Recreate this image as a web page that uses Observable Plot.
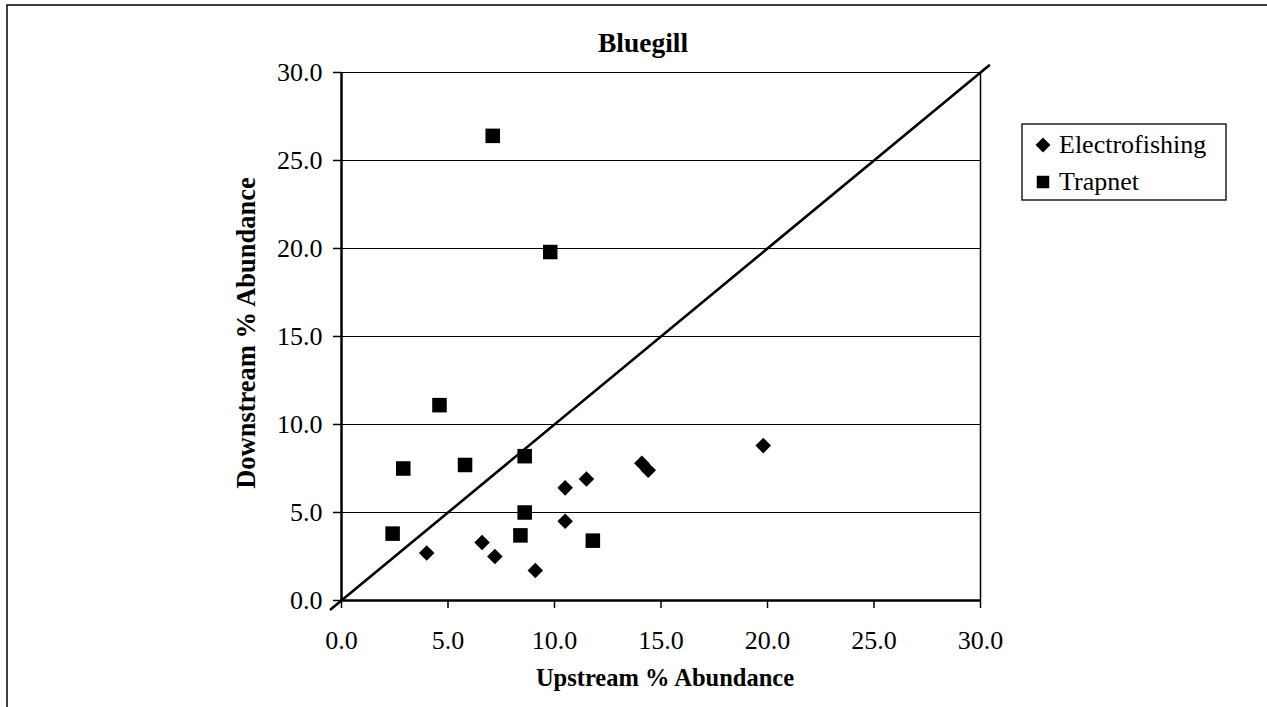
<!DOCTYPE html>
<html>
<head>
<meta charset="utf-8">
<script src="https://cdn.jsdelivr.net/npm/d3@7"></script>
<script src="https://cdn.jsdelivr.net/npm/@observablehq/plot@0.6"></script>
<style>
  html, body { margin: 0; padding: 0; background: #fff; }
  #chart svg { display: block; }
</style>
</head>
<body>
<div id="chart"></div>
<script>
// ---- data ----
const titleText = "Bluegill";
const xLabel = "Upstream % Abundance";
const yLabel = "Downstream % Abundance";
const seriesNames = ["Electrofishing", "Trapnet"];
const electroUp   = [4.0, 6.6, 7.2, 9.1, 10.5, 10.5, 11.5, 14.1, 14.4, 19.8];
const electroDown = [2.7, 3.3, 2.5, 1.7, 6.4, 4.5, 6.9, 7.8, 7.4, 8.8];
const trapUp      = [2.4, 2.9, 4.6, 5.8, 7.1, 8.4, 8.6, 8.6, 9.8, 11.8];
const trapDown    = [3.8, 7.5, 11.1, 7.7, 26.4, 3.7, 8.2, 5.0, 19.8, 3.4];
const axisTicks   = [0, 5, 10, 15, 20, 25, 30];
const gridValues  = [5, 10, 15, 20, 25, 30];
const identityEnds = [-0.5, 30.4];

// ---- build tables ----
const electro = electroUp.map((u, i) => ({up: u, down: electroDown[i]}));
const trap = trapUp.map((u, i) => ({up: u, down: trapDown[i]}));
const identity = identityEnds.map(v => ({up: v, down: v}));
const fmt = d => d.toFixed(1);

const W = 1267, H = 707;
const serif = "'Liberation Serif', 'Times New Roman', serif";
const chart = Plot.plot({
  width: W, height: H,
  marginLeft: 341, marginRight: 287, marginTop: 72, marginBottom: 107,
  style: {fontFamily: serif, fontSize: "26px", color: "#000", background: "#fff"},
  x: {domain: [0, 30]},
  y: {domain: [0, 30]},
  marks: [
    Plot.ruleY(gridValues, {stroke: "#000", strokeWidth: 1.2}),
    Plot.ruleX([30], {stroke: "#000", strokeWidth: 1.5}),
    Plot.axisX({ticks: axisTicks, tickFormat: fmt, tickSize: 8, tickPadding: 22, label: null, fontSize: 26, strokeWidth: 1.5, strokeOpacity: 1}),
    Plot.axisY({ticks: axisTicks, tickFormat: fmt, tickSize: 8, tickPadding: 11, label: null, fontSize: 26, strokeWidth: 1.5, strokeOpacity: 1}),
    Plot.ruleY([0], {stroke: "#000", strokeWidth: 2.5}),
    Plot.ruleX([0], {stroke: "#000", strokeWidth: 2.5}),
    Plot.line(identity, {x: "up", y: "down", stroke: "#000", strokeWidth: 2.6, clip: false}),
    Plot.dot(electro, {x: "up", y: "down", symbol: "diamond2", r: 7, fill: "#000", stroke: "none"}),
    Plot.dot(trap, {x: "up", y: "down", symbol: "square", r: 8.2, fill: "#000", stroke: "none"})
  ]
});
document.getElementById("chart").appendChild(chart);

// ---- decorations: frame, title, labels, legend ----
const svg = d3.select(chart);
svg.append("path")
  .attr("d", `M7,${H + 2} L7,5 L${W + 2},5`)
  .attr("fill", "none").attr("stroke", "#000").attr("stroke-width", 1.5);

svg.append("text").text(titleText)
  .attr("x", 643).attr("y", 52).attr("text-anchor", "middle")
  .attr("font-family", serif).attr("font-weight", "bold").attr("font-size", 27.5).attr("fill", "#000");
svg.append("text").text(xLabel)
  .attr("x", 665).attr("y", 686).attr("text-anchor", "middle")
  .attr("font-family", serif).attr("font-weight", "bold").attr("font-size", 24.5).attr("fill", "#000");
svg.append("text").text(yLabel)
  .attr("transform", "translate(255,333) rotate(-90)").attr("text-anchor", "middle")
  .attr("font-family", serif).attr("font-weight", "bold").attr("font-size", 26.5).attr("fill", "#000");

const lg = svg.append("g");
lg.append("rect").attr("x", 1022).attr("y", 124).attr("width", 204).attr("height", 76)
  .attr("fill", "#fff").attr("stroke", "#000").attr("stroke-width", 1.3);
const symbols = [d3.symbolDiamond2, d3.symbolSquare];
const symSizes = [140, 156];
const rowsY = [145, 182];
seriesNames.forEach((name, i) => {
  lg.append("path").attr("d", d3.symbol(symbols[i], symSizes[i])())
    .attr("transform", `translate(1043,${rowsY[i]})`).attr("fill", "#000");
  lg.append("text").text(name)
    .attr("x", 1059).attr("y", rowsY[i] + 8).attr("text-anchor", "start")
    .attr("font-family", serif).attr("font-size", 26).attr("fill", "#000");
});
</script>
</body>
</html>
